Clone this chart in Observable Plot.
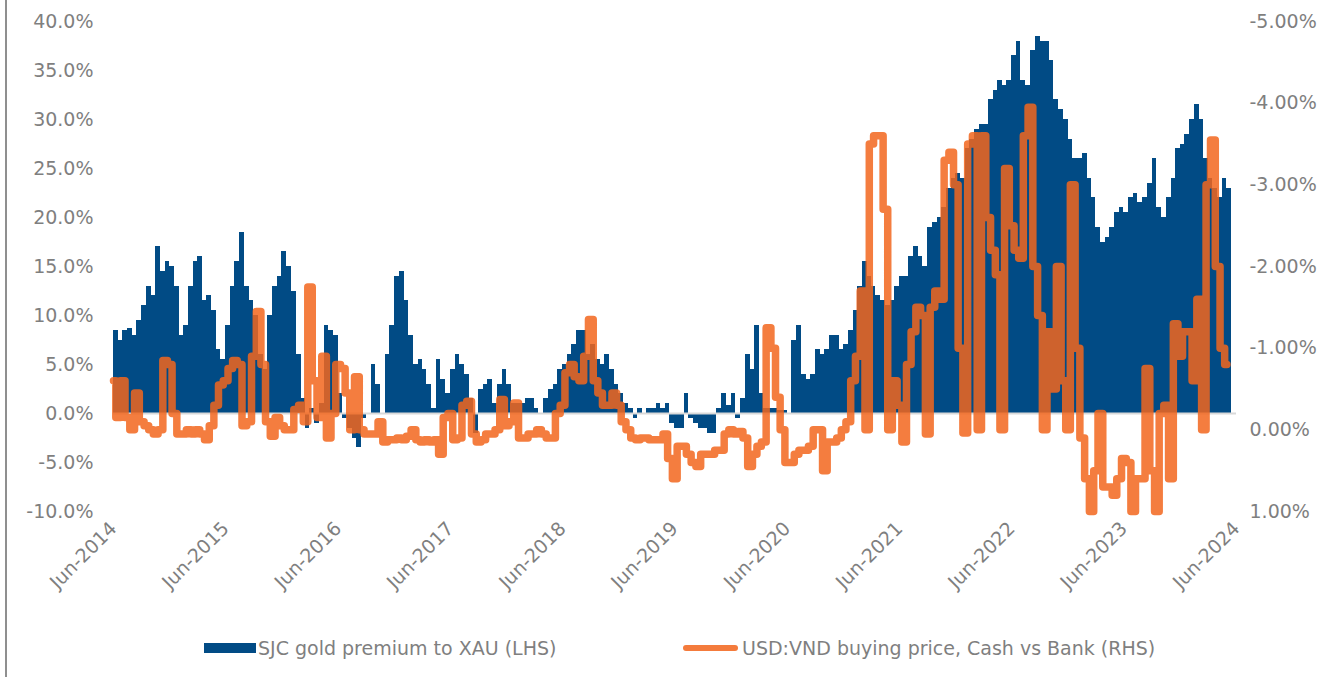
<!DOCTYPE html>
<html>
<head>
<meta charset="utf-8">
<script src="https://cdn.jsdelivr.net/npm/d3@7"></script>
<script src="https://cdn.jsdelivr.net/npm/@observablehq/plot@0.6"></script>
<style>
  html, body { margin: 0; padding: 0; background: #ffffff; }
  #wrap { position: relative; width: 1334px; height: 677px; overflow: hidden; font-family: "DejaVu Sans", sans-serif; }
  #border { position: absolute; left: 5px; top: 0; width: 2px; height: 677px; background: #8f8f8f; }
  #chart { position: absolute; left: 0; top: 0; }
  .lg { position: absolute; top: 636px; font-size: 19px; line-height: 24px; color: #7f7f7f; white-space: nowrap; }
  .sw { position: absolute; }
</style>
</head>
<body>
<div id="wrap">
  <div id="chart"></div>
  <div id="border"></div>
  <div class="sw" style="left:204px;top:643px;width:52px;height:10px;background:#014B85;"></div>
  <div class="lg" style="left:258px;">SJC gold premium to XAU (LHS)</div>
  <div class="sw" style="left:683px;top:645px;width:55px;height:6px;border-radius:3px;background:#F47B3C;"></div>
  <div class="lg" style="left:742px;">USD:VND buying price, Cash vs Bank (RHS)</div>
</div>
<script>
// SJC gold premium to XAU (%), semi-monthly readings from Jun-2014
const premium = [
  8.5, 7.5, 8.5, 8.7, 8, 9.5, 11, 13, 12, 17,
  14.5, 15.5, 15, 13, 8, 9, 13, 15.5, 16, 11.5,
  12, 10.5, 6.5, 5.5, 9, 13, 15.5, 18.5, 13, 11.5,
  10, 6, 4.5, 10, 13, 14, 16.5, 15, 12.5, 6,
  1.5, -1.5, 0.5, -1, 1, 9, 8.5, 8, 2, -0.5,
  -1.5, -2.5, -3.5, -0.5, 0, 5, 3, 0, 6, 9,
  14, 14.5, 11.5, 8, 5, 5.5, 4.5, 3, 0.5, 5.5,
  3.5, 2, 4.5, 6, 5, 4, 1.5, -2, 2.5, 3,
  3.5, 1, 3, 4.5, 3, 1, 1, 1, 1.5, 1.5,
  0.5, 0, 1.5, 2.5, 3, 4.5, 5, 6, 7, 8.5,
  8.5, 6, 7, 5.5, 5, 6, 4.5, 3, 2, 1,
  0.5, -0.5, 0.5, 0, 0.5, 0.5, 1, 0.5, 1, -1,
  -1.5, -1.5, 2, -0.5, -1, -1.5, -1.5, -2, -2, 0.5,
  2, 0.8, 2, -0.5, 1.5, 6, 4.5, 9, 2, 0.5,
  0.5, 0.5, 0.3, 0.3, 0, 7.5, 9, 4, 3.5, 4,
  6.5, 6, 6.5, 8, 8, 6.5, 7, 8.5, 10.5, 13,
  15.5, 14, 13, 12, 11.5, 11, 11.5, 13, 14, 14,
  16, 17, 16, 15, 19, 19.5, 20, 21, 23, 24,
  24.5, 24, 27, 28, 29, 29.5, 29.5, 32, 33, 34,
  33.5, 34, 36.5, 38, 34, 33.5, 37, 38.5, 38, 38,
  36, 32, 31, 30, 28, 26, 26, 26.5, 24, 22,
  19, 17.5, 18, 19, 20.5, 21, 20.5, 22, 22.5, 21.5,
  22, 23.5, 26, 21, 20, 22, 24, 27, 27.5, 28.5,
  30, 31.5, 30, 26, 24, 23, 22, 24, 23
];
// USD:VND buying price, cash vs bank (%), same dates
const cashVsBank = [
  -0.6, -0.15, -0.6, -0.15, 0.0, -0.45, -0.1, -0.05, 0.0, 0.05,
  0.0, -0.85, -0.8, -0.2, 0.05, 0.05, 0.0, 0.05, 0.0, 0.05,
  0.12, -0.05, -0.3, -0.55, -0.6, -0.75, -0.85, -0.8, -0.05, -0.1,
  -0.9, -1.45, -0.8, -0.1, 0.08, -0.15, -0.05, 0.0, 0.0, -0.25,
  -0.3, -0.1, -1.75, -0.6, -0.15, -0.9, 0.1, -0.2, -0.8, -0.75,
  -0.45, 0.0, -0.65, 0.0, 0.05, 0.05, 0.05, -0.1, 0.15, 0.12,
  0.12, 0.1, 0.12, 0.08, 0.0, 0.12, 0.15, 0.12, 0.15, 0.12,
  0.3, -0.15, -0.2, 0.12, 0.1, -0.3, -0.35, 0.05, 0.15, 0.12,
  0.05, 0.05, 0.0, -0.37, -0.05, -0.1, -0.33, 0.1, 0.1, 0.05,
  0.05, 0.0, 0.05, 0.1, 0.1, -0.2, -0.3, -0.7, -0.8, -0.65,
  -0.6, -0.9, -1.35, -0.6, -0.45, -0.3, -0.3, -0.45, -0.3, -0.1,
  0.0, 0.1, 0.12, 0.1, 0.1, 0.12, 0.12, 0.12, 0.05, 0.35,
  0.6, 0.2, 0.2, 0.3, 0.4, 0.45, 0.3, 0.3, 0.3, 0.25,
  0.25, 0.05, 0.0, 0.05, 0.02, 0.1, 0.45, 0.3, 0.2, 0.15,
  -1.25, -1.0, -0.4, 0.0, 0.4, 0.4, 0.3, 0.25, 0.25, 0.2,
  0.0, 0.0, 0.5, 0.15, 0.15, 0.1, 0.0, -0.1, -0.6, -0.9,
  -1.7, 0.0, -3.5, -3.6, -3.6, -2.7, 0.0, -0.6, -0.3, 0.15,
  -0.8, -1.2, -1.5, -1.4, 0.05, -1.5, -1.7, -1.6, -3.3, -3.4,
  -3.0, -1.0, 0.04, -3.5, -3.6, 0.0, -3.6, -2.6, -2.2, -1.9,
  0.0, -3.2, -2.5, -2.2, -2.1, -3.6, -3.95, -2.0, -1.4, 0.0,
  -1.2, -0.5, -2.0, -0.6, 0.0, -3.0, -1.0, 0.1, 0.6, 1.0,
  0.5, -0.2, 0.7, 0.7, 0.8, 0.6, 0.35, 0.4, 1.0, 0.6,
  0.6, -0.75, 0.5, 1.0, -0.2, -0.3, 0.6, -1.3, -0.9, -1.2,
  -1.2, -0.6, -1.6, 0.0, -3.0, -3.55, -2.0, -1.0, -0.8
];
const leftTicks = [-10, -5, 0, 5, 10, 15, 20, 25, 30, 35, 40];
const rightTicks = [1, 0, -1, -2, -3, -4, -5];
const xTickYears = [2014, 2015, 2016, 2017, 2018, 2019, 2020, 2021, 2022, 2023, 2024];

// dates: 1st and 16th of each month starting June 2014
const dates = d3.range(premium.length + 1).map(i =>
  new Date(Date.UTC(2014, 5 + Math.floor(i / 2), i % 2 ? 16 : 1)));

// right axis (reversed, 1% .. -5%) mapped onto left axis (-10% .. 40%)
const toLeft = r => -10 + (1 - r) * 50 / 6;
const toRight = v => 1 - (v + 10) * 6 / 50;

const table = premium.map((p, i) => ({
  date: dates[i], next: dates[i + 1], premium: p, fx: toLeft(cashVsBank[i])
}));

const H = 610;
const chart = Plot.plot({
  width: 1334,
  height: H,
  marginLeft: 113,
  marginRight: 98,
  marginTop: 21,
  marginBottom: H - 511,
  x: { type: "utc", domain: [new Date(Date.UTC(2014, 5, 1)), new Date(Date.UTC(2024, 5, 1))], axis: null },
  y: { domain: [-10, 40], axis: null },
  style: { fontFamily: "DejaVu Sans, sans-serif", fontSize: "19px", color: "#7f7f7f", background: "transparent", overflow: "visible" },
  marks: [
    Plot.rectY(table, { x1: "date", x2: "next", y: "premium", fill: "#014B85", shapeRendering: "crispEdges" }),
    Plot.ruleY([0], { stroke: "#d9d9d9", strokeWidth: 2 }),
    Plot.lineY(table, { x: "date", y: "fx", curve: "step", stroke: "#F2661D", strokeOpacity: 0.85, strokeWidth: 7.5, strokeLinejoin: "round", strokeLinecap: "round" }),
    Plot.axisY(leftTicks, { anchor: "left", tickSize: 0, tickPadding: 20, fill: "#7f7f7f", tickFormat: d => d.toFixed(1) + "%" }),
    Plot.axisY(rightTicks.map(toLeft), { anchor: "right", tickSize: 0, tickPadding: 13, fill: "#7f7f7f",
      tickFormat: v => { let r = Math.round(toRight(v) * 100) / 100; if (Math.abs(r) < 1e-9) r = 0; return r.toFixed(2) + "%"; } }),
    Plot.axisX(xTickYears.map(y => new Date(Date.UTC(y, 5, 1))), { anchor: "bottom", tickSize: 0, tickPadding: 14, tickRotate: -45, fill: "#7f7f7f",
      tickFormat: d3.utcFormat("%b-%Y") })
  ]
});
document.getElementById("chart").appendChild(chart);
</script>
</body>
</html>
